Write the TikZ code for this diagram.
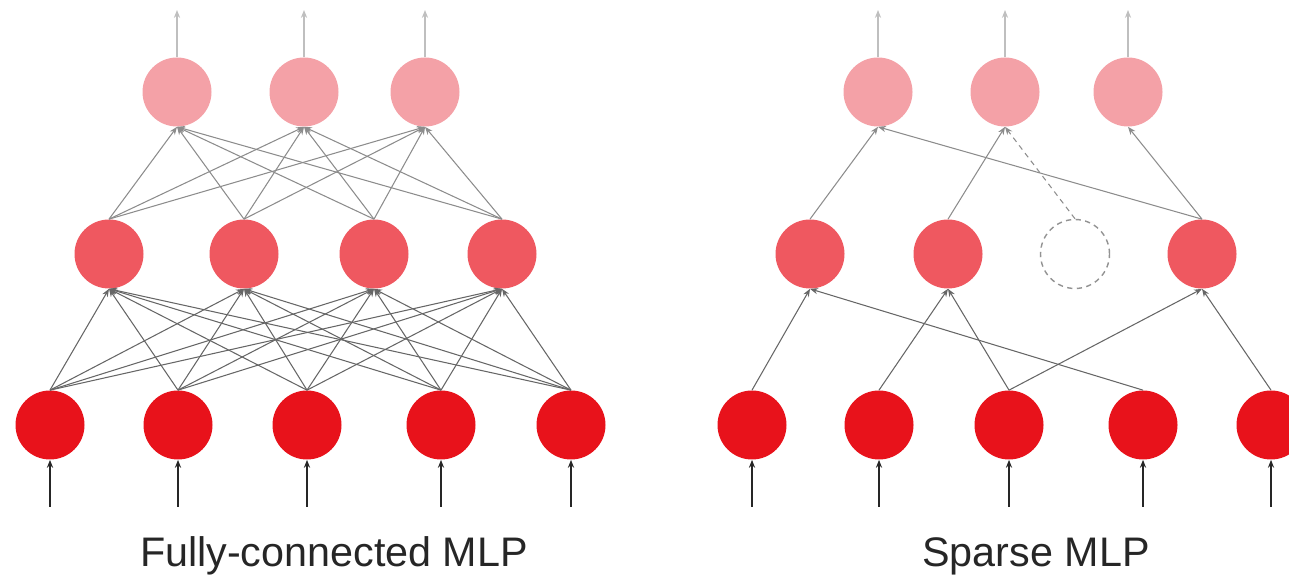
\documentclass[tikz,border=0pt]{standalone}
\usepackage{fontspec}
\setmainfont{Liberation Sans}
\usetikzlibrary{positioning, arrows.meta}
\definecolor{inred}{HTML}{E8121B}
\definecolor{hidred}{HTML}{EF5860}
\definecolor{outred}{HTML}{F4A1A7}

\begin{document}
\begin{tikzpicture}[
    unit/.style={circle, minimum size=1.38cm, inner sep=0pt},
    inunit/.style={unit, fill=inred},
    hidunit/.style={unit, fill=hidred},
    outunit/.style={unit, fill=outred},
    dropunit/.style={unit, draw=gray!85, dash pattern=on 3pt off 2.5pt, line width=0.8pt},
    link/.style={-{Stealth[length=4.5pt, width=3.5pt]}, black!60, line width=0.6pt},
    uplink/.style={-{Stealth[length=4.5pt, width=3.5pt]}, black!45, line width=0.6pt},
    feed/.style={-{Stealth[length=4.5pt, width=3.5pt]}, black!85, line width=1.1pt},
    emit/.style={-{Stealth[length=4.5pt, width=3.5pt]}, black!25, line width=0.9pt},
    caption/.style={anchor=base, font=\fontsize{23.5}{28}\selectfont, text=black!85}]

  \useasboundingbox (0,0) rectangle (25.78,11.58);

  % fully-connected MLP
  \foreach \x [count=\i] in {1.0,3.56,6.14,8.82,11.42} {
    \node[inunit] (FI\i) at (\x,3.08) {};
    \coordinate (FX\i) at (\x,1.44);
  }
  \foreach \x [count=\i] in {2.18,4.88,7.48,10.04}
    \node[hidunit] (FH\i) at (\x,6.5) {};
  \foreach \x [count=\i] in {3.54,6.08,8.5} {
    \node[outunit] (FO\i) at (\x,9.74) {};
    \coordinate (FY\i) at (\x,11.38);
  }

  \foreach \i in {1,...,5}
    \draw[feed] (FX\i) -- (FI\i);
  \foreach \i in {1,...,5}
    \foreach \j in {1,...,4}
      \draw[link] (FI\i.north) -- (FH\j.south);
  \foreach \j in {1,...,4}
    \foreach \k in {1,...,3}
      \draw[uplink] (FH\j.north) -- (FO\k.south);
  \foreach \k in {1,...,3}
    \draw[emit] (FO\k) -- (FY\k);

  \node[caption] (FC) at (6.68,0.24) {Fully-connected MLP};

  % sparse MLP
  \foreach \x [count=\i] in {15.04,17.58,20.18,22.86,25.42} {
    \node[inunit] (SI\i) at (\x,3.08) {};
    \coordinate (SX\i) at (\x,1.44);
  }
  \node[hidunit] (SH1) at (16.2,6.5) {};
  \node[hidunit] (SH2) at (18.96,6.5) {};
  \node[dropunit] (SH3) at (21.5,6.5) {};
  \node[hidunit] (SH4) at (24.04,6.5) {};
  \foreach \x [count=\i] in {17.56,20.1,22.56} {
    \node[outunit] (SO\i) at (\x,9.74) {};
    \coordinate (SY\i) at (\x,11.38);
  }

  \foreach \i in {1,...,5}
    \draw[feed] (SX\i) -- (SI\i);
  \foreach \i/\j in {1/1, 2/2, 3/2, 3/4, 4/1, 5/4}
    \draw[link] (SI\i.north) -- (SH\j.south);
  \foreach \j/\k in {1/1, 2/2, 4/1, 4/3}
    \draw[uplink] (SH\j.north) -- (SO\k.south);
  \draw[uplink, dash pattern=on 3pt off 2.5pt] (SH3.north) -- (SO2.south);
  \foreach \k in {1,...,3}
    \draw[emit] (SO\k) -- (SY\k);

  \node[caption] (SC) at (20.72,0.24) {Sparse MLP};
\end{tikzpicture}
\end{document}
